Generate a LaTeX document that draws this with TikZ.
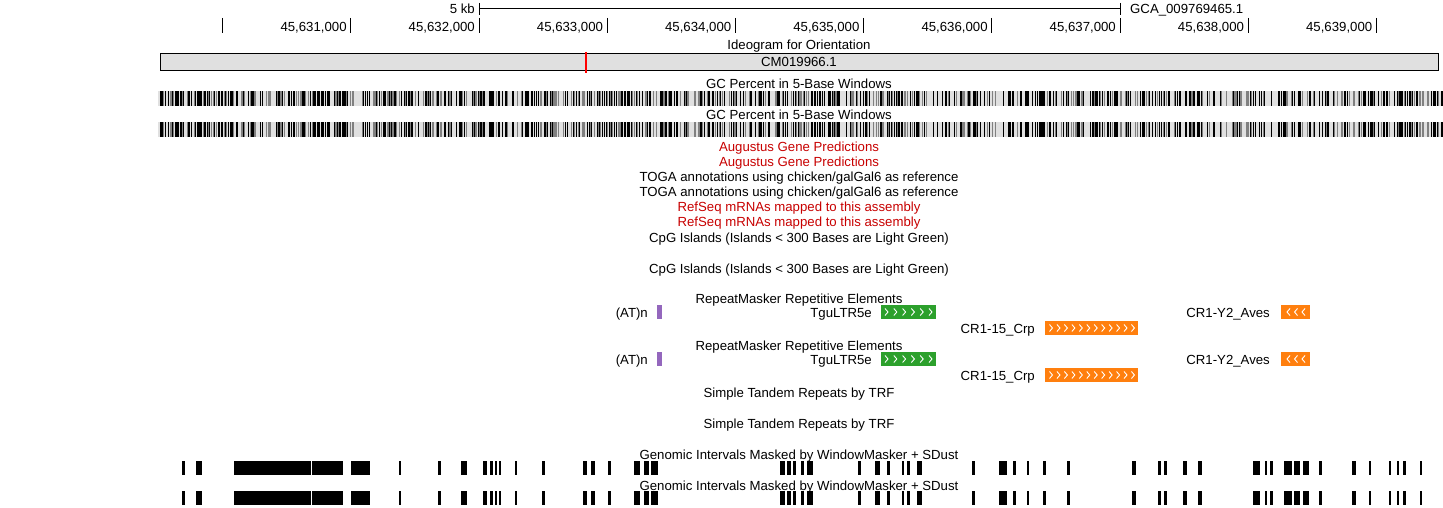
\documentclass[tikz,border=0pt]{standalone}
\usepackage{fontspec}
\setmainfont{Liberation Sans}
\definecolor{ucscred}{RGB}{200,0,0}
\definecolor{rmgreen}{RGB}{44,160,44}
\definecolor{rmorange}{RGB}{255,127,14}
\definecolor{rmpurple}{RGB}{148,103,189}
\definecolor{ideo}{RGB}{224,224,224}
\begin{document}
\begin{tikzpicture}[x=1pt,y=-1pt,
  lab/.style={font=\fontsize{13.2}{14}\selectfont, inner sep=0pt, anchor=base},
  redlab/.style={lab, text=ucscred},
  tickline/.style={line width=1pt},
  chev/.style={white, line width=0.9pt, line join=miter}]
\useasboundingbox (0,0) rectangle (1443,508);
\fill[white] (0,0) rectangle (1443,508);

% scale bar
\coordinate (sbL) at (479,9);
\coordinate (sbR) at (1120,9);
\draw[tickline] (479,3) -- (479,15);
\draw[tickline] (1120,3) -- (1120,15);
\draw[tickline] (sbL) -- (sbR);
\node[lab,anchor=base east] (kb) at (475,14) {5 kb};
\node[lab,anchor=base west] (asm) at (1130,14) {GCA\_009769465.1};

% ruler
\foreach \k in {0,...,9} {
  \pgfmathsetmacro\tx{222.6+128.2*\k}
  \draw[tickline] (\tx,18) -- (\tx,33);
}
\foreach \k in {1,...,9} {
  \pgfmathsetmacro\tx{222.6+128.2*\k-4}
  \node[lab,anchor=base east] (r\k) at (\tx,31.5) {45,63\k,000};
}

% ideogram
\node[lab] (ideot) at (799,49.5) {Ideogram for Orientation};
\draw[fill=ideo, line width=1pt] (160,54) rectangle (1438,71);
\node[lab] (chrom) at (799,67) {CM019966.1};
\draw[red, line width=2pt] (586,52) -- (586,73);

% GC percent
\node[lab] (gc1) at (799,89) {GC Percent in 5-Base Windows};
\node[lab] (gc2) at (799,120) {GC Percent in 5-Base Windows};
\pgfmathsetseed{11}
\foreach \i in {0,...,1284} {
  \pgfmathtruncatemacro\lv{rnd<0.34 ? 100 : (rnd<0.3 ? 50 : 12)}
  \pgfmathsetmacro\xa{158+\i}
  \pgfmathsetmacro\xb{159+\i}
  \fill[black!\lv] (\xa,91) rectangle (\xb,106);
  \fill[black!\lv] (\xa,122) rectangle (\xb,137);
}

% track titles
\node[redlab] (aug1) at (799,151) {Augustus Gene Predictions};
\node[redlab] (aug2) at (799,166) {Augustus Gene Predictions};
\node[lab] (toga1) at (799,181) {TOGA annotations using chicken/galGal6 as reference};
\node[lab] (toga2) at (799,196) {TOGA annotations using chicken/galGal6 as reference};
\node[redlab] (ref1) at (799,211) {RefSeq mRNAs mapped to this assembly};
\node[redlab] (ref2) at (799,226) {RefSeq mRNAs mapped to this assembly};
\node[lab] (cpg1) at (799,242) {CpG Islands (Islands < 300 Bases are Light Green)};
\node[lab] (cpg2) at (799,273) {CpG Islands (Islands < 300 Bases are Light Green)};

% RepeatMasker (two copies)
\foreach \dy in {0,47} {
  \node[lab] (rm\dy) at (799,303+\dy) {RepeatMasker Repetitive Elements};
  \node[lab,anchor=base east] (atn\dy) at (648,317+\dy) {(AT)n};
  \fill[rmpurple] (657,305+\dy) rectangle (662,319+\dy);
  \node[lab,anchor=base east] (tgu\dy) at (872,317+\dy) {TguLTR5e};
  \fill[rmgreen] (881,305+\dy) rectangle (936,319+\dy);
  \foreach \j in {0,...,5} {
    \draw[chev] ({885+8.8*\j},308.5+\dy) -- ++(3,3.5) -- ++(-3,3.5);
  }
  \node[lab,anchor=base east] (cry\dy) at (1270,317+\dy) {CR1-Y2\_Aves};
  \fill[rmorange] (1281,305+\dy) rectangle (1310,319+\dy);
  \foreach \j in {0,...,2} {
    \draw[chev] ({1290+7.5*\j},308.5+\dy) -- ++(-3,3.5) -- ++(3,3.5);
  }
  \node[lab,anchor=base east] (crp\dy) at (1035,333+\dy) {CR1-15\_Crp};
  \fill[rmorange] (1045,321+\dy) rectangle (1138,335+\dy);
  \foreach \j in {0,...,11} {
    \draw[chev] ({1049.5+7.45*\j},324.5+\dy) -- ++(3,3.5) -- ++(-3,3.5);
  }
}

% TRF
\node[lab] (trf1) at (799,397) {Simple Tandem Repeats by TRF};
\node[lab] (trf2) at (799,428) {Simple Tandem Repeats by TRF};

% WindowMasker
\node[lab] (wm1) at (799,459) {Genomic Intervals Masked by WindowMasker + SDust};
\node[lab] (wm2) at (799,490) {Genomic Intervals Masked by WindowMasker + SDust};
\foreach \a/\b in {182/185, 196/202, 234/311, 312/343, 351/370, 399/401, 438/441, 461/467, 483/487, 490/493, 495/497, 499/501, 515/517, 542/545, 583/587, 591/595, 608/611, 634/640, 644/649, 651/658, 780/785, 787/791, 793/796, 801/804, 807/813, 858/861, 875/880, 887/890, 902/904, 907/910, 917/922, 972/975, 999/1007, 1013/1016, 1027/1029, 1043/1046, 1067/1070, 1132/1136, 1158/1161, 1164/1167, 1183/1187, 1198/1202, 1253/1260, 1265/1267, 1270/1273, 1284/1292, 1294/1300, 1303/1309, 1319/1322, 1352/1356, 1369/1371, 1389/1391, 1397/1399, 1403/1406, 1420/1422} {
  \fill[black] (\a,461) rectangle (\b,475);
  \fill[black] (\a,491) rectangle (\b,505);
}
\end{tikzpicture}
\end{document}
